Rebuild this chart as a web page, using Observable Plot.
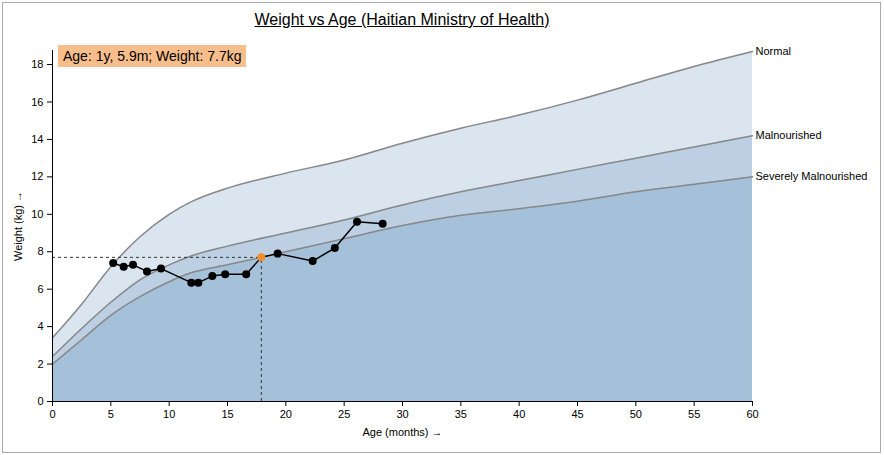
<!DOCTYPE html>
<html><head><meta charset="utf-8">
<script src="https://cdn.jsdelivr.net/npm/d3@7"></script>
<script src="https://cdn.jsdelivr.net/npm/@observablehq/plot@0.6"></script>
<style>
body{margin:0;font-family:"Liberation Sans",Arial,sans-serif;}
#wrap{position:relative;width:884px;height:455px;}
#box{position:absolute;left:2px;top:2px;width:877px;height:449px;border:1px solid #aaa;}
#title{position:absolute;left:0;width:804px;top:11px;text-align:center;font-size:16px;text-decoration:underline;}
#tip{position:absolute;left:58px;top:45px;background:#f7be8c;font-size:14px;padding:3px 5px;}
#chart{position:absolute;left:0;top:0;}
</style></head><body>
<div id="wrap"><div id="box"></div><div id="chart"></div>
<div id="title">Weight vs Age (Haitian Ministry of Health)</div>
<div id="tip">Age: 1y, 5.9m; Weight: 7.7kg</div></div>
<script>
const ageRef = [0, 2.5, 5, 7.5, 10, 12, 15, 20, 25, 30, 35, 40, 45, 50, 55, 60];
const normal = [3.4, 5.2, 7.2, 8.8, 10.0, 10.7, 11.4, 12.2, 12.9, 13.8, 14.6, 15.3, 16.1, 17.0, 17.9, 18.7];
const malnourished = [2.4, 3.9, 5.3, 6.5, 7.3, 7.8, 8.3, 9.0, 9.7, 10.5, 11.2, 11.8, 12.4, 13.0, 13.6, 14.2];
const severe = [2.0, 3.3, 4.6, 5.6, 6.4, 6.9, 7.3, 8.0, 8.7, 9.4, 9.95, 10.3, 10.7, 11.2, 11.6, 12.0];
const childAge = [5.2, 6.1, 6.9, 8.1, 9.3, 11.9, 12.5, 13.7, 14.8, 16.6, 17.9, 19.3, 22.3, 24.2, 26.1, 28.3];
const childWeight = [7.4, 7.2, 7.3, 6.95, 7.1, 6.35, 6.35, 6.7, 6.8, 6.8, 7.7, 7.9, 7.5, 8.2, 9.6, 9.5];
const selected = 10;

const ref = ageRef.map((a, i) => ({a, n: normal[i], m: malnourished[i], s: severe[i]}));
const child = childAge.map((a, i) => ({a, w: childWeight[i]}));
const sel = child[selected];
const labels = [{t: "Normal", y: normal.at(-1)}, {t: "Malnourished", y: malnourished.at(-1)}, {t: "Severely Malnourished", y: severe.at(-1)}];
const line = "#888";

let chart = Plot.plot({
  width: 884, height: 455,
  marginLeft: 52, marginRight: 132, marginTop: 50, marginBottom: 54,
  x: {domain: [0, 60], ticks: d3.range(0, 61, 5), label: "Age (months)", labelAnchor: "center", labelOffset: 34, tickSize: 5},
  y: {domain: [0, 18.75], ticks: d3.range(0, 19, 2), label: "Weight (kg)", labelAnchor: "center", labelOffset: 38, tickSize: 5},
  style: {fontFamily: "Liberation Sans, Arial, sans-serif", fontSize: "11px", color: "black", background: "transparent"},
  marks: [
    Plot.areaY(ref, {x: "a", y: "n", fill: "#dae5ef", curve: "monotone-x"}),
    Plot.areaY(ref, {x: "a", y: "m", fill: "#bccfe3", curve: "monotone-x"}),
    Plot.areaY(ref, {x: "a", y: "s", fill: "#a5c1da", curve: "monotone-x"}),
    Plot.lineY(ref, {x: "a", y: "n", stroke: line, strokeWidth: 1.5, curve: "monotone-x"}),
    Plot.lineY(ref, {x: "a", y: "m", stroke: line, strokeWidth: 1.5, curve: "monotone-x"}),
    Plot.lineY(ref, {x: "a", y: "s", stroke: line, strokeWidth: 1.5, curve: "monotone-x"}),
    Plot.text(labels, {x: 60, y: "y", text: "t", textAnchor: "start", dx: 3, fill: "black"}),
    Plot.ruleY([sel], {x1: 0, x2: "a", y: "w", stroke: "#333", strokeDasharray: "3,3"}),
    Plot.ruleX([sel], {x: "a", y1: 0, y2: "w", stroke: "#333", strokeDasharray: "3,3"}),
    Plot.line(child, {x: "a", y: "w", stroke: "black", strokeWidth: 1.5}),
    Plot.dot(child, {x: "a", y: "w", r: 4, fill: (d, i) => i === selected ? "#f28e2b" : "black"}),
    Plot.ruleX([0], {stroke: "black"}),
    Plot.ruleY([0], {stroke: "black"})
  ]
});
d3.select("#chart").append(() => chart);
</script></body></html>
